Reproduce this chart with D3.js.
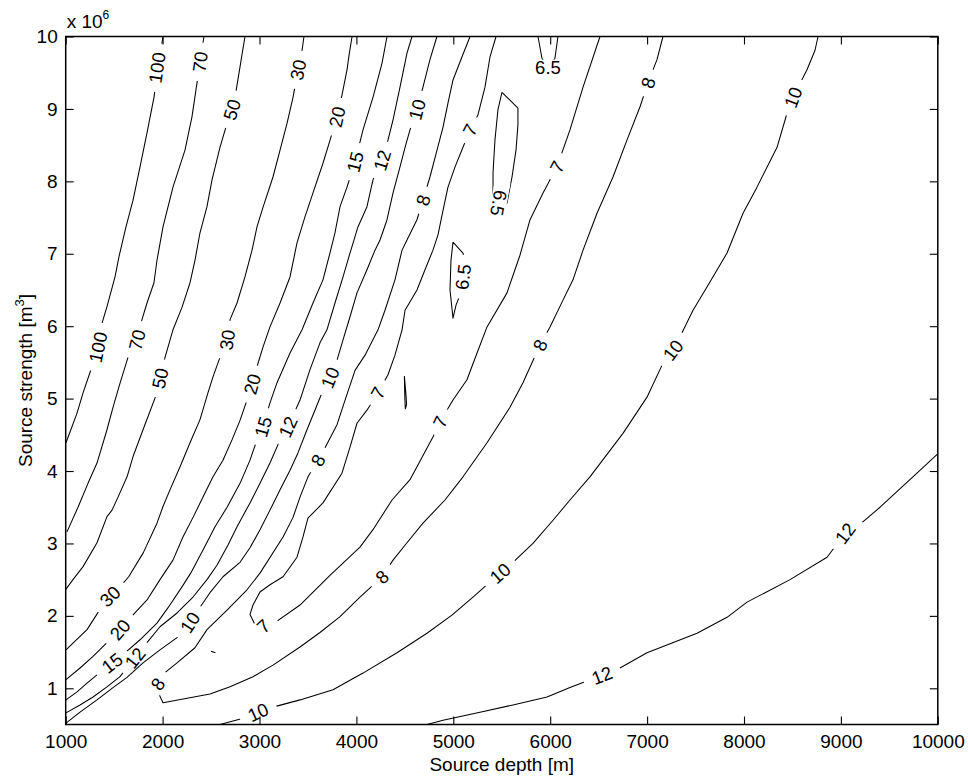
<!DOCTYPE html>
<html>
<head>
<meta charset="utf-8">
<script src="https://cdn.jsdelivr.net/npm/d3@7"></script>
<style>
  body { margin: 0; background: #fff; }
  svg { display: block; }
  text { font-family: "Liberation Sans", Arial, Helvetica, sans-serif; fill: #000; }
</style>
</head>
<body>
<svg id="chart" width="968" height="776"></svg>
<script>
// ---------------- data ----------------
const xTicks = [1000, 2000, 3000, 4000, 5000, 6000, 7000, 8000, 9000, 10000];
const yTicks = [1, 2, 3, 4, 5, 6, 7, 8, 9, 10];
const xDomain = [1000, 10000];
const yDomain = [0.5, 10];          // in units of 10^6 m^3

// contour polylines: [source depth (m), source strength (x10^6 m^3)]
const c100 = [[2004,10],[1973,9.74],[1942,9.47],[1911,9.16],[1839,8.67],[1767,8.20],[1695,7.74],[1622,7.37],[1550,6.96],[1509,6.68],[1426,6.27],[1354,5.95],[1271,5.44],[1179,5.08],[1117,4.80],[1003,4.39]];
const c70 = [[2427,10],[2396,9.74],[2355,9.36],[2303,8.89],[2231,8.43],[2107,7.92],[2004,7.37],[1942,6.91],[1911,6.60],[1839,6.32],[1787,6.09],[1736,5.81],[1643,5.57],[1560,5.21],[1488,4.88],[1426,4.57],[1323,4.11],[1230,3.83],[1127,3.50],[1013,3.16]];
const c50 = [[2850,10],[2799,9.58],[2747,9.16],[2665,8.80],[2592,8.47],[2510,8.02],[2458,7.65],[2386,7.29],[2334,6.91],[2283,6.60],[2200,6.26],[2107,5.95],[2025,5.57],[1942,5.08],[1798,4.57],[1695,4.20],[1633,3.92],[1540,3.64],[1478,3.46],[1426,3.37],[1323,3.01],[1179,2.68],[1075,2.50],[1003,2.37]];
const c30 = [[3459,10],[3439,9.81],[3397,9.54],[3346,9.16],[3284,8.80],[3212,8.43],[3139,8.06],[3036,7.64],[2974,7.37],[2923,7.05],[2850,6.68],[2768,6.32],[2696,6.09],[2665,5.81],[2592,5.57],[2520,5.30],[2468,5.08],[2386,4.71],[2283,4.39],[2180,4.06],[2076,3.74],[2004,3.51],[1942,3.28],[1800,2.87],[1650,2.54],[1560,2.40],[1457,2.26],[1354,2.09],[1220,1.81],[1003,1.53]];
const c20 = [[3955,10],[3924,9.74],[3903,9.54],[3851,9.19],[3800,8.89],[3728,8.57],[3655,8.25],[3552,7.84],[3469,7.51],[3387,7.15],[3315,6.68],[3212,6.32],[3108,5.99],[3036,5.71],[2974,5.44],[2923,5.20],[2871,4.98],[2799,4.70],[2716,4.43],[2623,4.15],[2520,3.92],[2417,3.64],[2314,3.36],[2210,3.09],[2107,2.77],[1973,2.50],[1839,2.22],[1664,1.97],[1560,1.81],[1426,1.63],[1282,1.44],[1148,1.28],[1003,1.12]];
const c15 = [[4316,10],[4264,9.63],[4171,9.16],[4068,8.71],[3986,8.27],[3903,7.92],[3831,7.65],[3779,7.29],[3727,7.01],[3655,6.64],[3552,6.32],[3439,5.95],[3315,5.63],[3181,5.22],[3108,4.94],[3036,4.61],[2974,4.43],[2902,4.15],[2799,3.83],[2665,3.50],[2541,3.23],[2417,2.91],[2290,2.59],[2200,2.40],[2060,2.12],[1942,1.90],[1767,1.67],[1612,1.49],[1478,1.35],[1354,1.22],[1220,1.07],[1117,0.95],[1003,0.84]];
const c12L = [[4574,10],[4522,9.77],[4450,9.30],[4378,8.85],[4326,8.57],[4264,8.29],[4171,8.02],[4109,7.65],[4016,7.37],[3934,7.01],[3862,6.68],[3779,6.32],[3696,5.95],[3624,5.77],[3521,5.40],[3418,4.98],[3294,4.61],[3212,4.43],[3108,4.11],[3005,3.83],[2902,3.56],[2768,3.23],[2675,2.98],[2561,2.70],[2458,2.50],[2314,2.26],[2149,2.04],[1973,1.85],[1839,1.63],[1715,1.42],[1560,1.16],[1426,1.02],[1282,0.88],[1148,0.77],[1003,0.66]];
const c10L = [[4831,10],[4759,9.68],[4687,9.30],[4625,8.99],[4553,8.71],[4502,8.47],[4450,8.20],[4378,7.84],[4316,7.47],[4244,7.19],[4192,7.05],[4109,6.78],[4006,6.46],[3934,6.13],[3862,5.81],[3800,5.53],[3727,5.29],[3645,5.08],[3572,4.84],[3490,4.57],[3397,4.25],[3315,4.01],[3212,3.74],[3108,3.46],[3005,3.19],[2902,2.94],[2799,2.74],[2623,2.54],[2489,2.32],[2386,2.12],[2283,1.91],[2149,1.70],[1973,1.53],[1798,1.35],[1633,1.15],[1488,1.01],[1323,0.84],[1148,0.67],[1003,0.52]];
const c8 = [[5173,10],[5090,9.72],[4997,9.40],[4945,9.08],[4894,8.75],[4832,8.43],[4759,8.06],[4687,7.74],[4625,7.47],[4522,7.19],[4471,7.05],[4398,6.64],[4295,6.22],[4223,5.95],[4089,5.60],[3986,5.39],[3883,4.98],[3800,4.64],[3676,4.32],[3604,4.15],[3500,3.92],[3418,3.64],[3346,3.36],[3243,3.09],[3005,2.59],[2871,2.36],[2665,2.08],[2458,1.81],[2334,1.56],[2149,1.35],[1973,1.16],[1942,0.98],[2004,0.80],[2489,0.92],[2696,1.02],[2933,1.16],[3139,1.32],[3418,1.57],[3624,1.77],[3831,1.99],[4037,2.26],[4264,2.54],[4378,2.77],[4522,3.01],[4687,3.28],[4914,3.60],[5100,3.92],[5348,4.39],[5585,4.88],[5719,5.22],[5895,5.74],[5998,5.99],[6132,6.36],[6235,6.64],[6339,7.05],[6483,7.56],[6648,8.06],[6792,8.57],[6927,9.03],[7009,9.36],[7102,9.68],[7164,10]];
const c7 = [[5441,10],[5379,9.72],[5327,9.30],[5255,8.92],[5173,8.71],[5100,8.47],[5018,8.20],[4945,7.92],[4894,7.60],[4842,7.26],[4790,7.05],[4708,6.78],[4625,6.50],[4502,6.22],[4471,5.95],[4398,5.60],[4326,5.33],[4223,5.08],[4109,4.84],[4006,4.66],[3934,4.33],[3851,3.97],[3655,3.56],[3500,3.35],[3449,3.09],[3387,2.81],[3243,2.54],[3108,2.43],[3005,2.33],[2933,2.15],[2902,2.02],[2964,1.85],[3078,1.83],[3418,2.15],[3727,2.56],[4037,2.95],[4171,3.19],[4368,3.60],[4553,3.88],[4790,4.47],[4863,4.68],[4997,4.98],[5141,5.26],[5245,5.63],[5348,5.99],[5554,6.46],[5688,6.98],[5792,7.47],[5926,7.84],[6070,8.20],[6204,8.71],[6339,9.30],[6514,10]];
const c65a = [[5502,9.23],[5667,9.01],[5667,8.78],[5647,8.43],[5606,8.06],[5554,7.70],[5482,7.60],[5410,7.81],[5410,8.12],[5430,8.57],[5461,8.99],[5502,9.23]];
const c65b = [[4997,7.16],[5100,7.01],[5121,6.84],[5090,6.50],[5028,6.29],[4997,6.11],[4966,6.50],[4976,6.91],[4997,7.16]];
const c65c = [[5874,10],[5915,9.70],[5977,9.55],[6049,9.70],[6080,10]];
const c7s = [[4495,5.31],[4512,5.05],[4518,4.92],[4505,4.86],[4500,5.0],[4495,5.31]];
const c7t = [[2500,1.51],[2545,1.49]];
const c10R = [[2592,0.50],[2871,0.60],[2985,0.67],[3139,0.74],[3418,0.84],[3759,0.98],[4068,1.21],[4419,1.49],[4728,1.76],[4986,2.01],[5203,2.26],[5482,2.59],[5616,2.74],[5822,3.00],[6029,3.32],[6204,3.60],[6410,3.92],[6751,4.52],[6999,5.02],[7164,5.49],[7267,5.67],[7360,5.91],[7474,6.22],[7618,6.54],[7825,7.01],[7990,7.56],[8134,7.92],[8341,8.47],[8444,8.94],[8506,9.16],[8650,9.54],[8733,9.81],[8764,10]];
const c12R = [[4729,0.50],[4894,0.56],[5276,0.67],[5616,0.77],[5967,0.88],[6204,1.01],[6534,1.18],[6720,1.28],[6999,1.49],[7515,1.76],[7825,1.98],[8031,2.19],[8475,2.50],[8857,2.81],[9043,3.14],[9166,3.23],[9404,3.50],[9785,3.97],[10002,4.24]];

// contour levels with their inline label anchors [depth, strength, (optional fixed angle)]
const contours = [
  { level: "100", pts: c100, labels: [[1942, 9.57], [1333, 5.71]] },
  { level: "70",  pts: c70,  labels: [[2386, 9.65], [1736, 5.81]] },
  { level: "50",  pts: c50,  labels: [[2716, 8.99], [1973, 5.28]] },
  { level: "30",  pts: c30,  labels: [[3397, 9.54], [2665, 5.81], [1457, 2.27]] },
  { level: "20",  pts: c20,  labels: [[3800, 8.89], [2923, 5.20], [1560, 1.81]] },
  { level: "15",  pts: c15,  labels: [[3986, 8.27], [3036, 4.61], [1478, 1.35]] },
  { level: "12",  pts: c12L, labels: [[4264, 8.29], [3294, 4.61], [1715, 1.42]] },
  { level: "10",  pts: c10L, labels: [[4625, 8.99], [3727, 5.29], [2283, 1.91]] },
  { level: "8",   pts: c8,   labels: [[4687, 7.74], [3604, 4.15], [1950, 1.06, -55], [4264, 2.54], [5895, 5.74], [7009, 9.36]] },
  { level: "7",   pts: c7,   labels: [[5173, 8.71], [4223, 5.08], [3040, 1.86, -42], [4863, 4.68], [6070, 8.20]] },
  { level: "6.5", pts: c65a, labels: [[5470, 7.70, 100]] },
  { level: "6.5", pts: c65b, labels: [[5100, 6.68]] },
  { level: "6.5", pts: c65c, labels: [[5977, 9.57, 0]] },
  { level: "7",   pts: c7s,  labels: [] },
  { level: "7",   pts: c7t,  labels: [] },
  { level: "10",  pts: c10R, labels: [[2985, 0.67], [5482, 2.59], [7267, 5.67], [8506, 9.16]] },
  { level: "12",  pts: c12R, labels: [[6534, 1.18], [9043, 3.14]] }
];

const xTitle = "Source depth [m]";
const yTitleMain = "Source strength [m";
const yTitleSup = "3";
const multiplier = ["x 10", "6"];

// ---------------- layout ----------------
const W = 968, H = 776;
const L = 65.7, R = 937.8, T = 36.5, B = 724.5;
const fs = 19, labelFs = 18.5;

const svg = d3.select("#chart");
const x = d3.scaleLinear().domain(xDomain).range([L, R]);
const y = d3.scaleLinear().domain(yDomain).range([B, T]);

const defs = svg.append("defs");
defs.append("clipPath").attr("id", "plotclip")
  .append("rect").attr("x", L).attr("y", T).attr("width", R - L).attr("height", B - T);

const line = d3.line().x(d => x(d[0])).y(d => y(d[1]));

function labelAngle(pts, lx, ly) {
  let best = Infinity, ang = 0;
  for (let i = 0; i < pts.length - 1; i++) {
    const ax = x(pts[i][0]), ay = y(pts[i][1]);
    const bx = x(pts[i + 1][0]), by = y(pts[i + 1][1]);
    const dx = bx - ax, dy = by - ay;
    const len2 = dx * dx + dy * dy || 1;
    let t = ((lx - ax) * dx + (ly - ay) * dy) / len2;
    t = Math.max(0, Math.min(1, t));
    const px = ax + t * dx, py = ay + t * dy;
    const d = (px - lx) ** 2 + (py - ly) ** 2;
    if (d < best) { best = d; ang = Math.atan2(dy, dx) * 180 / Math.PI; }
  }
  if (ang > 90) ang -= 180;
  if (ang < -90) ang += 180;
  return ang;
}

const plot = svg.append("g").attr("clip-path", "url(#plotclip)");
const labelLayer = svg.append("g");

contours.forEach((c, i) => {
  const placed = c.labels.map(l => {
    const lx = x(l[0]), ly = y(l[1]);
    const a = l.length > 2 ? l[2] : labelAngle(c.pts, lx, ly);
    const t = labelLayer.append("text")
      .attr("transform", `translate(${lx},${ly}) rotate(${a})`)
      .attr("text-anchor", "middle")
      .attr("dy", "0.36em")
      .style("font-size", labelFs + "px")
      .text(c.level);
    const w = t.node().getComputedTextLength();
    return { lx, ly, a, w };
  });
  let path = plot.append("path")
    .attr("d", line(c.pts))
    .attr("fill", "none")
    .attr("stroke", "#000")
    .attr("stroke-width", 1.05)
    .attr("stroke-linejoin", "round");
  if (placed.length) {
    const m = defs.append("mask").attr("id", "mask" + i)
      .attr("maskUnits", "userSpaceOnUse")
      .attr("x", 0).attr("y", 0).attr("width", W).attr("height", H);
    m.append("rect").attr("width", W).attr("height", H).attr("fill", "#fff");
    placed.forEach(p => {
      const pad = 9, h = 16;
      m.append("rect")
        .attr("x", -p.w / 2 - pad).attr("y", -h / 2)
        .attr("width", p.w + 2 * pad).attr("height", h)
        .attr("transform", `translate(${p.lx},${p.ly}) rotate(${p.a})`)
        .attr("fill", "#000");
    });
    path.attr("mask", `url(#mask${i})`);
  }
});

// ---------------- axes ----------------
const tickLen = 8;
const axes = svg.append("g");
const xb = axes.append("g").attr("transform", `translate(0,${B})`)
  .call(d3.axisBottom(x).tickValues(xTicks).tickSizeInner(-tickLen).tickSizeOuter(0).tickPadding(10).tickFormat(d3.format("d")));
const xt = axes.append("g").attr("transform", `translate(0,${T})`)
  .call(d3.axisTop(x).tickValues(xTicks).tickSizeInner(-tickLen).tickSizeOuter(0).tickFormat(""));
const yl = axes.append("g").attr("transform", `translate(${L},0)`)
  .call(d3.axisLeft(y).tickValues(yTicks).tickSizeInner(-tickLen).tickSizeOuter(0).tickPadding(8).tickFormat(d3.format("d")));
const yr = axes.append("g").attr("transform", `translate(${R},0)`)
  .call(d3.axisRight(y).tickValues(yTicks).tickSizeInner(-tickLen).tickSizeOuter(0).tickFormat(""));
[xb, xt, yl, yr].forEach(g => {
  g.select(".domain").remove();
  g.selectAll(".tick line").attr("stroke", "#000").attr("stroke-width", 1.1);
  g.selectAll(".tick text").style("font-size", fs + "px").attr("fill", "#000")
    .style("font-family", '"Liberation Sans", Arial, Helvetica, sans-serif');
});
axes.append("rect").attr("x", L).attr("y", T).attr("width", R - L).attr("height", B - T)
  .attr("fill", "none").attr("stroke", "#000").attr("stroke-width", 1.5);

// multiplier
const mt = svg.append("text").attr("x", L + 1).attr("y", 28).style("font-size", fs + "px");
mt.append("tspan").text(multiplier[0]);
mt.append("tspan").attr("dy", -9).style("font-size", "12px").text(multiplier[1]);

// titles
svg.append("text").attr("x", (L + R) / 2).attr("y", 771)
  .attr("text-anchor", "middle").style("font-size", fs + "px").text(xTitle);
const yt = svg.append("text")
  .attr("transform", `translate(32,${(T + B) / 2}) rotate(-90)`)
  .attr("text-anchor", "middle").style("font-size", fs + "px");
yt.append("tspan").text(yTitleMain);
yt.append("tspan").attr("dy", -8).style("font-size", "13px").text(yTitleSup);
yt.append("tspan").attr("dy", 8).text("]");
</script>
</body>
</html>
